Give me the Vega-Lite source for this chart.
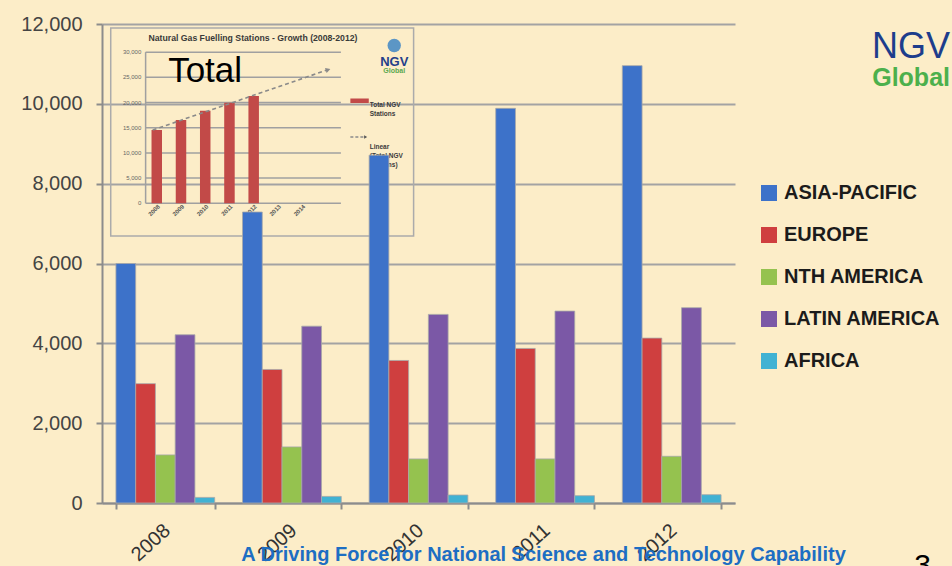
{
  "$schema": "https://vega.github.io/schema/vega-lite/v6.json",
  "width": 633,
  "height": 479,
  "autosize": {"type": "none"},
  "padding": {"left": 102, "top": 24, "right": 217, "bottom": 63},
  "background": "#fcedc8",
  "title": {
    "text": "NGV",
    "subtitle": "Global",
    "anchor": "end",
    "frame": "group",
    "orient": "top",
    "offset": 0,
    "dx": 215,
    "dy": 78,
    "font": "Liberation Sans",
    "fontSize": 36,
    "fontWeight": "normal",
    "color": "#1d3d8c",
    "subtitleFont": "Liberation Sans",
    "subtitleFontSize": 25,
    "subtitleFontWeight": "bold",
    "subtitleColor": "#4cb04c",
    "subtitlePadding": 0
  },
  "config": {
    "view": {"stroke": null},
    "legend": {
      "orient": "none",
      "legendX": 657,
      "legendY": 159,
      "padding": 0,
      "symbolType": "square",
      "symbolSize": 256,
      "symbolStrokeWidth": 0,
      "symbolOpacity": 1,
      "labelFont": "Liberation Sans",
      "labelFontSize": 20,
      "labelFontWeight": "bold",
      "labelColor": "#1b1b1b",
      "labelOffset": 5,
      "rowPadding": 22,
      "labelLimit": 300
    }
  },
  "resolve": {"scale": {"x": "independent", "y": "independent"}},
  "layer": [
    {
      "data": {"values": [{}]},
      "layer": [
        {
          "mark": {"type": "rect", "fillOpacity": 0, "stroke": "#ababab", "strokeWidth": 1.5},
          "encoding": {
            "x": {"datum": 2006.1, "type": "quantitative", "scale": {"domain": [2006, 2019], "range": [1.3, 326.3], "zero": false, "nice": false}, "axis": null},
            "x2": {"datum": 2018.6},
            "y": {"datum": -6500, "type": "quantitative", "scale": {"domain": [-6000, 36000], "range": [209.5, -2.1], "zero": false, "nice": false}, "axis": null},
            "y2": {"datum": 34800}
          }
        },
        {
          "data": {"values": [{"v": 0}, {"v": 5000}, {"v": 10000}, {"v": 15000}, {"v": 20000}, {"v": 25000}, {"v": 30000}]},
          "layer": [
            {
              "mark": {"type": "rule", "color": "#a0a0a0", "strokeWidth": 1.5},
              "encoding": {
                "x": {"datum": 2007.54, "type": "quantitative", "scale": {"domain": [2006, 2019], "range": [1.3, 326.3], "zero": false, "nice": false}, "axis": null},
                "x2": {"datum": 2015.6},
                "y": {"field": "v", "type": "quantitative", "scale": {"domain": [-6000, 36000], "range": [209.5, -2.1], "zero": false, "nice": false}, "axis": null}
              }
            },
            {
              "mark": {"type": "text", "align": "right", "baseline": "middle", "fontSize": 6, "font": "Liberation Sans", "color": "#666666"},
              "encoding": {
                "x": {"datum": 2007.36, "type": "quantitative", "scale": {"domain": [2006, 2019], "range": [1.3, 326.3], "zero": false, "nice": false}, "axis": null},
                "y": {"field": "v", "type": "quantitative", "scale": {"domain": [-6000, 36000], "range": [209.5, -2.1], "zero": false, "nice": false}, "axis": null},
                "text": {"field": "v", "type": "quantitative", "format": ",.0f"}
              }
            }
          ]
        },
        {
          "mark": {"type": "rule", "color": "#a0a0a0", "strokeWidth": 1.5},
          "encoding": {
            "x": {"datum": 2007.54, "type": "quantitative", "scale": {"domain": [2006, 2019], "range": [1.3, 326.3], "zero": false, "nice": false}, "axis": null},
            "y": {"datum": 0, "type": "quantitative", "scale": {"domain": [-6000, 36000], "range": [209.5, -2.1], "zero": false, "nice": false}, "axis": null},
            "y2": {"datum": 30000}
          }
        },
        {
          "data": {"values": [{"yr": 2008, "v": 14544}, {"yr": 2009, "v": 16530}, {"yr": 2010, "v": 18370}, {"yr": 2011, "v": 19960}, {"yr": 2012, "v": 21290}]},
          "mark": {"type": "bar", "width": 10.5, "color": "#c24a48"},
          "encoding": {
            "x": {"field": "yr", "type": "quantitative", "scale": {"domain": [2006, 2019], "range": [1.3, 326.3], "zero": false, "nice": false}, "axis": null},
            "y": {"field": "v", "type": "quantitative", "scale": {"domain": [-6000, 36000], "range": [209.5, -2.1], "zero": false, "nice": false}, "axis": null},
            "y2": {"datum": 0}
          }
        },
        {
          "data": {"values": [{"yr": 2008}, {"yr": 2009}, {"yr": 2010}, {"yr": 2011}, {"yr": 2012}, {"yr": 2013}, {"yr": 2014}]},
          "mark": {"type": "text", "angle": -45, "align": "right", "baseline": "middle", "fontSize": 6, "font": "Liberation Sans", "fontWeight": "bold", "color": "#555555", "dx": 3},
          "encoding": {
            "x": {"field": "yr", "type": "quantitative", "scale": {"domain": [2006, 2019], "range": [1.3, 326.3], "zero": false, "nice": false}, "axis": null},
            "y": {"datum": -900, "type": "quantitative", "scale": {"domain": [-6000, 36000], "range": [209.5, -2.1], "zero": false, "nice": false}, "axis": null},
            "text": {"field": "yr", "type": "quantitative", "format": "d"}
          }
        },
        {
          "data": {"values": [{"yr": 2007.83, "v": 14544}, {"yr": 2015.0, "v": 26400}]},
          "mark": {"type": "line", "color": "#8a8a8a", "strokeWidth": 1.6, "strokeDash": [4, 3]},
          "encoding": {
            "x": {"field": "yr", "type": "quantitative", "scale": {"domain": [2006, 2019], "range": [1.3, 326.3], "zero": false, "nice": false}, "axis": null},
            "y": {"field": "v", "type": "quantitative", "scale": {"domain": [-6000, 36000], "range": [209.5, -2.1], "zero": false, "nice": false}, "axis": null}
          }
        },
        {
          "mark": {"type": "point", "shape": "triangle-right", "angle": -18, "filled": true, "size": 30, "color": "#8a8a8a", "opacity": 1},
          "encoding": {
            "x": {"datum": 2015.07, "type": "quantitative", "scale": {"domain": [2006, 2019], "range": [1.3, 326.3], "zero": false, "nice": false}, "axis": null},
            "y": {"datum": 26500, "type": "quantitative", "scale": {"domain": [-6000, 36000], "range": [209.5, -2.1], "zero": false, "nice": false}, "axis": null}
          }
        },
        {
          "mark": {"type": "text", "align": "center", "baseline": "middle", "fontSize": 8.7, "font": "Liberation Sans", "fontWeight": "bold", "color": "#3a3a3a"},
          "encoding": {
            "x": {"datum": 2011.97, "type": "quantitative", "scale": {"domain": [2006, 2019], "range": [1.3, 326.3], "zero": false, "nice": false}, "axis": null},
            "y": {"datum": 32800, "type": "quantitative", "scale": {"domain": [-6000, 36000], "range": [209.5, -2.1], "zero": false, "nice": false}, "axis": null},
            "text": {"value": "Natural Gas Fuelling Stations - Growth (2008-2012)"}
          }
        },
        {
          "mark": {"type": "text", "align": "left", "baseline": "alphabetic", "fontSize": 35, "font": "Liberation Sans", "color": "#000000"},
          "encoding": {
            "x": {"datum": 2008.47, "type": "quantitative", "scale": {"domain": [2006, 2019], "range": [1.3, 326.3], "zero": false, "nice": false}, "axis": null},
            "y": {"datum": 24067, "type": "quantitative", "scale": {"domain": [-6000, 36000], "range": [209.5, -2.1], "zero": false, "nice": false}, "axis": null},
            "text": {"value": "Total"}
          }
        },
        {
          "mark": {"type": "rect", "color": "#c24a48"},
          "encoding": {
            "x": {"datum": 2015.99, "type": "quantitative", "scale": {"domain": [2006, 2019], "range": [1.3, 326.3], "zero": false, "nice": false}, "axis": null},
            "x2": {"datum": 2016.75},
            "y": {"datum": 19900, "type": "quantitative", "scale": {"domain": [-6000, 36000], "range": [209.5, -2.1], "zero": false, "nice": false}, "axis": null},
            "y2": {"datum": 20800}
          }
        },
        {
          "mark": {"type": "rule", "color": "#8a8a8a", "strokeWidth": 1.3, "strokeDash": [3, 2]},
          "encoding": {
            "x": {"datum": 2015.99, "type": "quantitative", "scale": {"domain": [2006, 2019], "range": [1.3, 326.3], "zero": false, "nice": false}, "axis": null},
            "x2": {"datum": 2016.6},
            "y": {"datum": 13150, "type": "quantitative", "scale": {"domain": [-6000, 36000], "range": [209.5, -2.1], "zero": false, "nice": false}, "axis": null}
          }
        },
        {
          "mark": {"type": "point", "shape": "triangle-right", "filled": true, "size": 12, "color": "#555555", "opacity": 1},
          "encoding": {
            "x": {"datum": 2016.62, "type": "quantitative", "scale": {"domain": [2006, 2019], "range": [1.3, 326.3], "zero": false, "nice": false}, "axis": null},
            "y": {"datum": 13150, "type": "quantitative", "scale": {"domain": [-6000, 36000], "range": [209.5, -2.1], "zero": false, "nice": false}, "axis": null}
          }
        },
        {
          "mark": {"type": "text", "align": "left", "baseline": "middle", "fontSize": 6.5, "font": "Liberation Sans", "fontWeight": "bold", "color": "#3a3a3a", "lineBreak": "\n", "lineHeight": 9.3},
          "encoding": {
            "x": {"datum": 2016.79, "type": "quantitative", "scale": {"domain": [2006, 2019], "range": [1.3, 326.3], "zero": false, "nice": false}, "axis": null},
            "y": {"datum": 19600, "type": "quantitative", "scale": {"domain": [-6000, 36000], "range": [209.5, -2.1], "zero": false, "nice": false}, "axis": null},
            "text": {"value": "Total NGV\nStations"}
          }
        },
        {
          "mark": {"type": "text", "align": "left", "baseline": "middle", "fontSize": 6.5, "font": "Liberation Sans", "fontWeight": "bold", "color": "#3a3a3a", "lineBreak": "\n", "lineHeight": 9.3},
          "encoding": {
            "x": {"datum": 2016.79, "type": "quantitative", "scale": {"domain": [2006, 2019], "range": [1.3, 326.3], "zero": false, "nice": false}, "axis": null},
            "y": {"datum": 11250, "type": "quantitative", "scale": {"domain": [-6000, 36000], "range": [209.5, -2.1], "zero": false, "nice": false}, "axis": null},
            "text": {"value": "Linear\n(Total NGV\nStations)"}
          }
        },
        {
          "mark": {"type": "point", "shape": "circle", "filled": true, "size": 180, "color": "#3f86c4", "opacity": 0.85},
          "encoding": {
            "x": {"datum": 2017.8, "type": "quantitative", "scale": {"domain": [2006, 2019], "range": [1.3, 326.3], "zero": false, "nice": false}, "axis": null},
            "y": {"datum": 31300, "type": "quantitative", "scale": {"domain": [-6000, 36000], "range": [209.5, -2.1], "zero": false, "nice": false}, "axis": null}
          }
        },
        {
          "mark": {"type": "text", "align": "center", "baseline": "alphabetic", "fontSize": 13, "font": "Liberation Sans", "fontWeight": "bold", "color": "#243f8a"},
          "encoding": {
            "x": {"datum": 2017.8, "type": "quantitative", "scale": {"domain": [2006, 2019], "range": [1.3, 326.3], "zero": false, "nice": false}, "axis": null},
            "y": {"datum": 27300, "type": "quantitative", "scale": {"domain": [-6000, 36000], "range": [209.5, -2.1], "zero": false, "nice": false}, "axis": null},
            "text": {"value": "NGV"}
          }
        },
        {
          "mark": {"type": "text", "align": "center", "baseline": "alphabetic", "fontSize": 7, "font": "Liberation Sans", "fontWeight": "bold", "color": "#5aa84f"},
          "encoding": {
            "x": {"datum": 2017.8, "type": "quantitative", "scale": {"domain": [2006, 2019], "range": [1.3, 326.3], "zero": false, "nice": false}, "axis": null},
            "y": {"datum": 25900, "type": "quantitative", "scale": {"domain": [-6000, 36000], "range": [209.5, -2.1], "zero": false, "nice": false}, "axis": null},
            "text": {"value": "Global"}
          }
        }
      ]
    },
    {
      "data": {
        "values": [
          {"year": "2008", "region": "ASIA-PACIFIC", "stations": 6000},
          {"year": "2008", "region": "EUROPE", "stations": 2990},
          {"year": "2008", "region": "NTH AMERICA", "stations": 1205},
          {"year": "2008", "region": "LATIN AMERICA", "stations": 4215},
          {"year": "2008", "region": "AFRICA", "stations": 140},
          {"year": "2009", "region": "ASIA-PACIFIC", "stations": 7290},
          {"year": "2009", "region": "EUROPE", "stations": 3345},
          {"year": "2009", "region": "NTH AMERICA", "stations": 1405},
          {"year": "2009", "region": "LATIN AMERICA", "stations": 4430},
          {"year": "2009", "region": "AFRICA", "stations": 165},
          {"year": "2010", "region": "ASIA-PACIFIC", "stations": 8715},
          {"year": "2010", "region": "EUROPE", "stations": 3571},
          {"year": "2010", "region": "NTH AMERICA", "stations": 1104},
          {"year": "2010", "region": "LATIN AMERICA", "stations": 4725},
          {"year": "2010", "region": "AFRICA", "stations": 200},
          {"year": "2011", "region": "ASIA-PACIFIC", "stations": 9887},
          {"year": "2011", "region": "EUROPE", "stations": 3872},
          {"year": "2011", "region": "NTH AMERICA", "stations": 1104},
          {"year": "2011", "region": "LATIN AMERICA", "stations": 4808},
          {"year": "2011", "region": "AFRICA", "stations": 183},
          {"year": "2012", "region": "ASIA-PACIFIC", "stations": 10957},
          {"year": "2012", "region": "EUROPE", "stations": 4131},
          {"year": "2012", "region": "NTH AMERICA", "stations": 1170},
          {"year": "2012", "region": "LATIN AMERICA", "stations": 4893},
          {"year": "2012", "region": "AFRICA", "stations": 208}
        ]
      },
      "mark": {"type": "bar", "stroke": "#a8a8a8", "strokeWidth": 0.8},
      "encoding": {
        "x": {
          "field": "year",
          "type": "nominal",
          "scale": {"paddingInner": 0.22, "paddingOuter": 0.11},
          "axis": {
            "orient": "bottom",
            "labelAngle": -42,
            "labelFont": "Liberation Sans",
            "labelFontSize": 20,
            "labelColor": "#333333",
            "labelPadding": 11,
            "labelOffset": -5,
            "tickBand": "extent",
            "tickSize": 6,
            "tickWidth": 2,
            "tickColor": "#8c8c8c",
            "domainColor": "#8c8c8c",
            "domainWidth": 2,
            "grid": false,
            "title": "A Driving Force for National Science and Technology Capability",
            "titleX": 441,
            "titleY": 57,
            "titleAlign": "center",
            "titleAnchor": null,
            "titleBaseline": "alphabetic",
            "titleFont": "Liberation Sans",
            "titleFontSize": 20,
            "titleFontWeight": "bold",
            "titleColor": "#1d6ec3"
          }
        },
        "xOffset": {
          "field": "region",
          "type": "nominal",
          "sort": ["ASIA-PACIFIC", "EUROPE", "NTH AMERICA", "LATIN AMERICA", "AFRICA"],
          "scale": {"paddingInner": 0, "paddingOuter": 0}
        },
        "y": {
          "field": "stations",
          "type": "quantitative",
          "scale": {"domain": [0, 12000], "nice": false},
          "axis": {
            "orient": "left",
            "values": [0, 2000, 4000, 6000, 8000, 10000, 12000],
            "format": ",.0f",
            "labelFont": "Liberation Sans",
            "labelFontSize": 20,
            "labelColor": "#444444",
            "labelPadding": 14,
            "tickSize": 6,
            "tickWidth": 2,
            "tickColor": "#8c8c8c",
            "domainColor": "#8c8c8c",
            "domainWidth": 2,
            "grid": true,
            "gridColor": "#a3a3a3",
            "gridWidth": 2,
            "title": "3",
            "titleAngle": 0,
            "titleX": 820,
            "titleY": 550,
            "titleAlign": "center",
            "titleBaseline": "alphabetic",
            "titleFont": "Liberation Sans",
            "titleFontSize": 30,
            "titleFontWeight": "normal",
            "titleColor": "#000000"
          }
        },
        "color": {
          "field": "region",
          "type": "nominal",
          "scale": {
            "domain": ["ASIA-PACIFIC", "EUROPE", "NTH AMERICA", "LATIN AMERICA", "AFRICA"],
            "range": ["#3d72c9", "#cf3f3f", "#95c24f", "#7b58a6", "#41b2d3"]
          },
          "legend": {"title": null}
        }
      }
    }
  ]
}
